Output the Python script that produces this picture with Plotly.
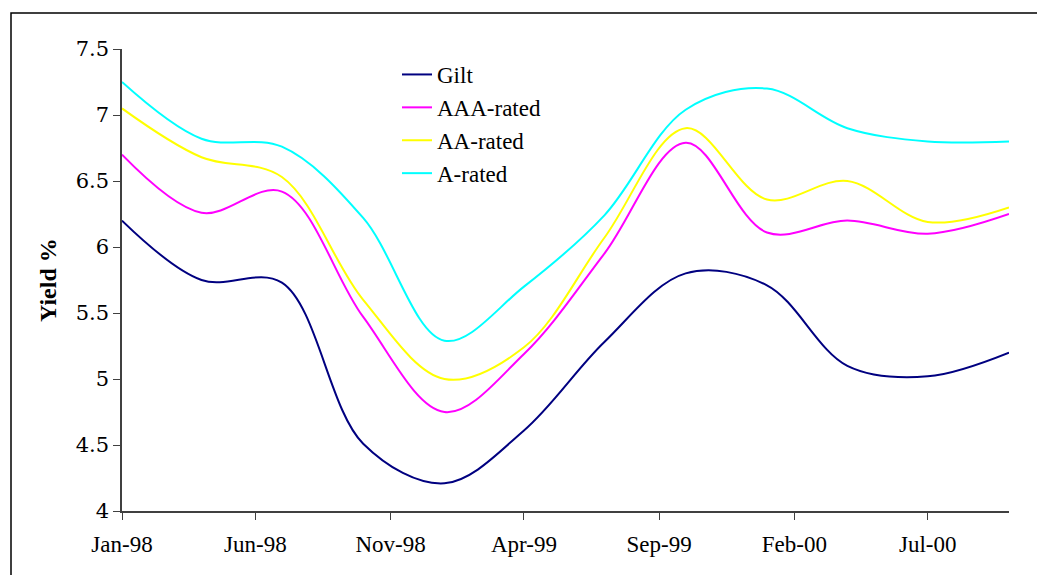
import plotly.graph_objects as go

dates = ["1998-01-01", "1998-04-01", "1998-07-01", "1998-10-01",
         "1999-01-01", "1999-04-01", "1999-07-01", "1999-10-01",
         "2000-01-01", "2000-04-01", "2000-07-01", "2000-10-01"]
gilt = [6.20, 5.75, 5.73, 4.51, 4.21, 4.61, 5.28, 5.80, 5.71, 5.10, 5.02, 5.20]
aaa = [6.70, 6.26, 6.42, 5.47, 4.75, 5.19, 5.95, 6.79, 6.11, 6.20, 6.10, 6.25]
aa = [7.05, 6.68, 6.53, 5.60, 5.00, 5.24, 6.07, 6.90, 6.36, 6.50, 6.19, 6.30]
a_rated = [7.25, 6.82, 6.76, 6.22, 5.29, 5.70, 6.24, 7.04, 7.20, 6.90, 6.80, 6.80]

series_names = ["Gilt", "AAA-rated", "AA-rated", "A-rated"]
series_vals = [gilt, aaa, aa, a_rated]
colors = ["#000080", "#FF00FF", "#FFFF00", "#00FFFF"]

tick_dates = ["1998-01-01", "1998-06-01", "1998-11-01", "1999-04-01",
              "1999-09-01", "2000-02-01", "2000-07-01"]
tick_labels = ["Jan-98", "Jun-98", "Nov-98", "Apr-99", "Sep-99", "Feb-00", "Jul-00"]

W, H = 1045, 575
ML, MR, MT, MB = 114, 44, 41, 72
pw = W - ML - MR
ph = H - MT - MB

fig = go.Figure()
for name, vals, col in zip(series_names, series_vals, colors):
    fig.add_trace(go.Scatter(x=dates, y=vals, name=name, mode="lines",
                             line=dict(color=col, width=2, shape="spline", smoothing=1)))

font = "Liberation Serif, Times New Roman, serif"
fig.update_layout(
    width=W, height=H,
    margin=dict(l=ML, r=MR, t=MT, b=MB, pad=0),
    paper_bgcolor="white", plot_bgcolor="white",
    font=dict(family=font, size=23, color="black"),
    showlegend=True,
    legend=dict(x=(389 - ML) / pw, y=(H - MB - 45) / ph, xanchor="left", yanchor="top",
                bgcolor="rgba(0,0,0,0)", font=dict(size=23), tracegroupgap=0),
    xaxis=dict(type="date", range=["1998-01-01", "2000-10-01"],
               tickvals=tick_dates, ticktext=tick_labels,
               showline=True, linecolor="#404040", linewidth=1.5,
               ticks="outside", ticklen=7, tickcolor="#404040",
               ticklabelstandoff=5,
               showgrid=False, zeroline=False),
    yaxis=dict(range=[4, 7.5], dtick=0.5, tick0=4,
               showline=True, linecolor="#404040", linewidth=1.5,
               ticks="outside", ticklen=7, tickcolor="#404040",
               tickfont=dict(family="DejaVu Serif, serif", size=21),
               showgrid=False, zeroline=False),
)

fig.add_annotation(text="<b>Yield %</b>", textangle=-90, xref="paper", yref="paper",
                   x=(40 - ML) / pw, y=0.5, showarrow=False, xanchor="center", yanchor="middle",
                   font=dict(family=font, size=24, color="black"))

# outer chart border
fig.add_shape(type="rect", xref="paper", yref="paper",
              x0=(3 - ML) / pw, x1=(W + 20 - ML) / pw,
              y0=(H - MB - (H + 20)) / ph, y1=(H - MB - 5) / ph,
              line=dict(color="black", width=1.5), fillcolor="rgba(0,0,0,0)", layer="below")

fig.write_html("out.html")
